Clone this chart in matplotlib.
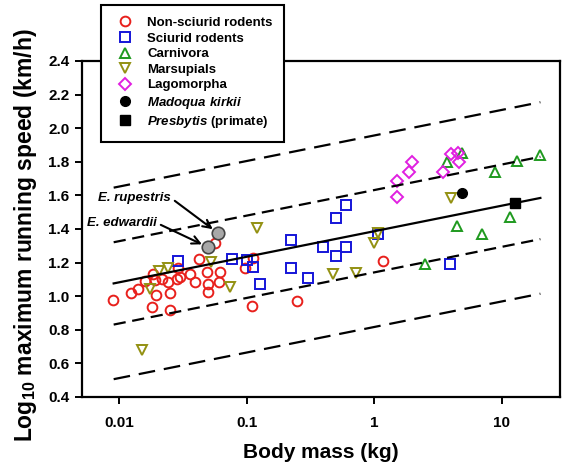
import numpy as np
import matplotlib.pyplot as plt

plt.rcParams['font.family'] = ['Liberation Sans', 'DejaVu Sans']
plt.rcParams['font.weight'] = 'bold'
plt.rcParams['mathtext.fontset'] = 'custom'
plt.rcParams['mathtext.rm'] = 'Liberation Sans:bold'
plt.rcParams['mathtext.it'] = 'Liberation Sans:italic:bold'
plt.rcParams['mathtext.bf'] = 'Liberation Sans:bold'

# body mass (kg) / log10 max running speed (km/h)
rodent_mass = [0.0089, 0.0123, 0.0139, 0.0159, 0.0184, 0.019, 0.0214, 0.0241, 0.0281,
               0.0193, 0.0249, 0.0179, 0.0249, 0.0423, 0.0561, 0.0299, 0.0357, 0.0391,
               0.0483, 0.0497, 0.0497, 0.0614, 0.0607, 0.0289, 0.0964, 0.111, 0.109,
               0.248, 1.17]
rodent_speed = [0.98, 1.02, 1.04, 1.09, 1.135, 1.095, 1.10, 1.085, 1.105,
                1.005, 1.02, 0.935, 0.92, 1.22, 1.315, 1.115, 1.135, 1.085,
                1.145, 1.075, 1.025, 1.145, 1.085, 1.165, 1.165, 1.225, 0.94,
                0.97, 1.21]

sciurid_mass = [0.029, 0.0759, 0.0994, 0.112, 0.126, 0.22, 0.22, 0.299, 0.397,
                0.496, 0.598, 0.496, 0.598, 1.07, 3.91]
sciurid_speed = [1.21, 1.22, 1.218, 1.172, 1.071, 1.335, 1.166, 1.107, 1.291,
                 1.241, 1.291, 1.464, 1.543, 1.37, 1.192]

carn_mass = [2.49, 3.68, 4.83, 4.41, 6.93, 8.81, 11.55, 13.0, 19.9]
carn_speed = [1.192, 1.80, 1.854, 1.42, 1.37, 1.741, 1.47, 1.807, 1.84]

mars_mass = [0.0149, 0.0173, 0.0205, 0.0241, 0.0522, 0.0736, 0.119, 0.475, 0.713,
             0.99, 1.07, 3.96]
mars_speed = [0.68, 1.041, 1.152, 1.166, 1.205, 1.052, 1.404, 1.132, 1.136,
              1.315, 1.374, 1.583]

lago_mass = [1.49, 1.49, 1.87, 1.98, 3.47, 3.96, 4.54, 4.60]
lago_speed = [1.592, 1.688, 1.738, 1.797, 1.738, 1.846, 1.85, 1.797]

madoqua_mass, madoqua_speed = [4.9], [1.615]
presbytis_mass, presbytis_speed = [12.7], [1.557]

elephant_names = ['E. rupestris', 'E. edwardii']
elephant_mass = [0.0596, 0.0497]
elephant_speed = [1.374, 1.291]

# fitted line and bands
slope = 0.152
intercept = 1.387
inner_band = 0.245
outer_band = 0.57
line_mass = np.array([0.009, 20])

fig = plt.figure(figsize=(5.62, 4.67), dpi=100)
ax = fig.add_axes([0.1459, 0.1499, 0.8505, 0.7195])

fit = intercept + slope * np.log10(line_mass)
ax.plot(line_mass, fit, color='black', lw=1.6, zorder=3)
ax.plot(line_mass, fit + inner_band, color='black', lw=1.6, dashes=(5.5, 3), zorder=3)
ax.plot(line_mass, fit - inner_band, color='black', lw=1.6, dashes=(5.5, 3), zorder=3)
ax.plot(line_mass, fit + outer_band, color='black', lw=1.6, dashes=(7.5, 4), zorder=3)
ax.plot(line_mass, fit - outer_band, color='black', lw=1.6, dashes=(7.5, 4), zorder=3)

mk = dict(linestyle='none', markersize=7, markeredgewidth=1.4, markerfacecolor='none', zorder=2)
h1, = ax.plot(rodent_mass, rodent_speed, 'o', color='#e8201c', label='Non-sciurid rodents', **mk)
h2, = ax.plot(sciurid_mass, sciurid_speed, 's', color='#1515d8', label='Sciurid rodents', **mk)
h3, = ax.plot(carn_mass, carn_speed, '^', color='#1f9a1f', label='Carnivora', **mk)
h4, = ax.plot(mars_mass, mars_speed, 'v', color='#939112', label='Marsupials', **mk)
h5, = ax.plot(lago_mass, lago_speed, 'D', color='#e020e0', label='Lagomorpha',
              linestyle='none', markersize=6.5, markeredgewidth=1.4, markerfacecolor='none', zorder=2)
h6, = ax.plot(madoqua_mass, madoqua_speed, 'o', color='black', markersize=7,
              linestyle='none', label='$\\it{Madoqua\\ kirkii}$', zorder=4)
h7, = ax.plot(presbytis_mass, presbytis_speed, 's', color='black', markersize=7,
              linestyle='none', label='$\\it{Presbytis}$ (primate)', zorder=4)

ax.plot(elephant_mass, elephant_speed, 'o', markersize=9, markerfacecolor='#a8a8a8',
        markeredgecolor='#444444', markeredgewidth=1.2, linestyle='none', zorder=4)

text_pos = [(0.0068, 1.585), (0.00556, 1.436)]
for name, m, s, tp in zip(elephant_names, elephant_mass, elephant_speed, text_pos):
    ax.annotate(name, xy=(m, s), xytext=tp, fontsize=9.5, style='italic', weight='bold',
                ha='left', va='center',
                arrowprops=dict(arrowstyle='->,head_length=0.6,head_width=0.3', lw=1.5,
                                color='black', relpos=(1, 0.5), shrinkA=1, shrinkB=5))

ax.set_xscale('log')
ax.set_xlim(0.00508, 28.5)
ax.set_ylim(0.4, 2.4)
ax.set_xticks([0.01, 0.1, 1, 10])
ax.set_xticklabels(['0.01', '0.1', '1', '10'])
ax.xaxis.set_minor_locator(plt.NullLocator())
ax.set_yticks(np.arange(0.4, 2.41, 0.2))
ax.set_yticklabels(['%.1f' % v for v in np.arange(0.4, 2.41, 0.2)])
ax.tick_params(direction='out', length=5, width=1.4, labelsize=11, pad=4)
ax.tick_params(axis='x', pad=9)
for sp in ax.spines.values():
    sp.set_linewidth(1.6)

ax.set_xlabel('Body mass (kg)', fontsize=15, fontweight='bold', labelpad=9)
ax.set_ylabel('Log$_{10}$ maximum running speed (km/h)', fontsize=16.5, fontweight='bold', labelpad=7)
ax.yaxis.label.set_y(0.48)

leg = fig.legend(handles=[h1, h2, h3, h4, h5, h6, h7], loc='upper left',
                 bbox_to_anchor=(0.1797, 0.9893), borderaxespad=0,
                 prop={'weight': 'bold', 'size': 9.5}, frameon=True, fancybox=False,
                 edgecolor='black', handlelength=1.8, handletextpad=0.8,
                 borderpad=0.9, labelspacing=0.25)
leg.get_frame().set_linewidth(1.5)
leg.get_frame().set_alpha(1)

fig.savefig('out.png', dpi=100)
